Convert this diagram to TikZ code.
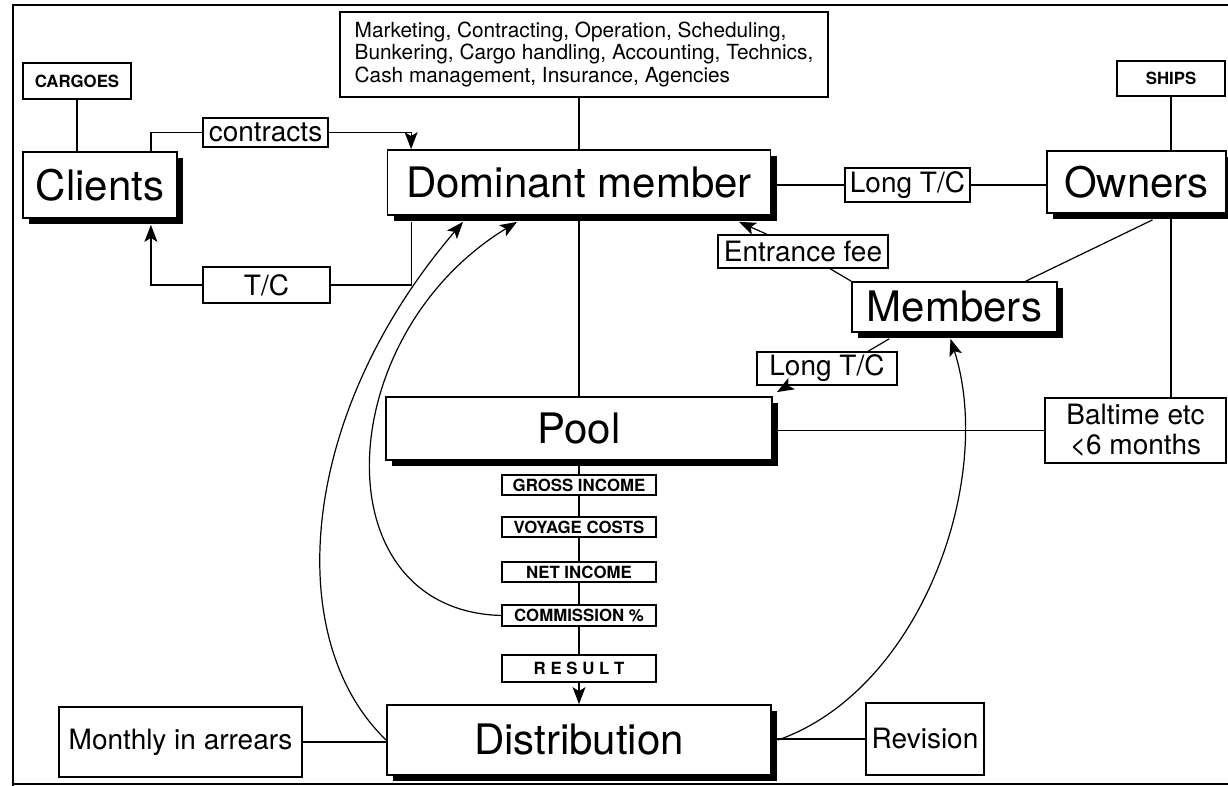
\documentclass[tikz,border=0pt]{standalone}
\usepackage{fontspec}
\setmainfont{TeX Gyre Heros}
\usetikzlibrary{arrows.meta,shadows}

\begin{document}
\begin{tikzpicture}[x=0.5pt,y=-0.5pt,
    bigbox/.style={draw,line width=0.9pt,fill=white,inner sep=0pt,
        font=\fontsize{21}{24}\selectfont,
        drop shadow={shadow xshift=3pt,shadow yshift=-3pt,fill=black,opacity=1}},
    midbox/.style={draw,line width=0.7pt,fill=white,inner sep=0pt,font=\fontsize{14}{15}\selectfont},
    tagbox/.style={draw,line width=0.7pt,fill=white,inner sep=0pt,font=\bfseries\fontsize{8.4}{9}\selectfont},
    link/.style={line width=0.6pt},
    arr/.style={line width=0.6pt,-{Stealth[length=8.5pt,width=6.5pt,inset=2pt]}}]

    \useasboundingbox (0,0) rectangle (1228,786);

    % Border
    \draw[line width=1.3pt] (1228,5) -- (13,5) -- (13,786);
    \draw[line width=0.8pt] (13,784) -- (1228,784);

    % Boxes
    \node[tagbox,minimum width=54pt,minimum height=18pt] (cargoes) at (77,81) {CARGOES};
    \node[bigbox,minimum width=77pt,minimum height=33pt] (clients) at (100,185) {Clients};
    \node[midbox,minimum width=62.5pt,minimum height=14.5pt] (contracts) at (265.5,132.5) {contracts};
    \node[draw,line width=0.7pt,align=left,minimum width=244pt,minimum height=42.5pt,inner sep=0pt,
        font=\fontsize{10.4}{11.3}\selectfont] (tasks) at (584,54.5)
        {Marketing, Contracting, Operation, Scheduling,\\Bunkering, Cargo handling, Accounting, Technics,\\Cash management, Insurance, Agencies};
    \node[bigbox,minimum width=191.5pt,minimum height=32.5pt] (dm) at (579,182.5) {Dominant member};
    \node[midbox,minimum width=62.5pt,minimum height=17pt] (ltcA) at (907.5,185) {Long T/C};
    \node[bigbox,minimum width=89.5pt,minimum height=31pt] (owners) at (1136.5,182) {Owners};
    \node[tagbox,minimum width=54pt,minimum height=17.5pt] (ships) at (1171,78.5) {SHIPS};
    \node[midbox,minimum width=63.5pt,minimum height=18pt] (tc) at (266.5,285) {T/C};
    \node[midbox,minimum width=85pt,minimum height=16.5pt] (fee) at (803,251.5) {Entrance fee};
    \node[bigbox,minimum width=102.5pt,minimum height=25pt] (members) at (954.5,307) {Members};
    \node[midbox,minimum width=70pt,minimum height=16.5pt] (ltcB) at (827,368.5) {Long T/C};
    \node[bigbox,minimum width=193pt,minimum height=31.5pt] (pool) at (579,428.5) {Pool};
    \node[midbox,minimum width=90.5pt,minimum height=32.5pt,align=center] (baltime) at (1135.5,430.5) {Baltime etc\\<6 months};

    % Ledger
    \node[tagbox,minimum width=77pt,minimum height=10pt] (gross) at (579,485) {GROSS INCOME};
    \node[tagbox,minimum width=77pt,minimum height=10pt] (voyage) at (579,527) {VOYAGE COSTS};
    \node[tagbox,minimum width=77pt,minimum height=10pt] (net) at (579,572) {NET INCOME};
    \node[tagbox,minimum width=77pt,minimum height=10.5pt] (comm) at (579,615.5) {COMMISSION \%};
    \node[tagbox,minimum width=77pt,minimum height=13.5pt] (result) at (579,668.5) {R E S U L T};

    \node[bigbox,minimum width=192pt,minimum height=35pt] (dist) at (579,740) {Distribution};
    \node[midbox,minimum width=121.5pt,minimum height=35pt] (monthly) at (180.5,742) {Monthly in arrears};
    \node[midbox,minimum width=59pt,minimum height=36pt] (revision) at (925,739) {Revision};

    % Clients side
    \draw[link] (cargoes.south) -- (cargoes.south |- clients.north);
    \draw[link] ([xshift=-13.5pt]clients.north east) |- (contracts.west);
    \draw[arr] (contracts.east) -| ([xshift=12.25pt]dm.north west);
    \draw[arr] (tc.west) -| ([xshift=-13.5pt,yshift=-3pt]clients.south east);
    \draw[link] (tc.east) -| ([xshift=12.25pt,yshift=-3pt]dm.south west);

    % Dominant member and owners
    \draw[link] (tasks.south -| dm.north) -- (dm.north);
    \draw[link] (dm.south) -- (pool.north);
    \draw[link] (dm.east |- ltcA.west) -- (ltcA.west);
    \draw[link] (ltcA.east) -- (owners.west |- ltcA.east);
    \draw[link] (ships.south) -- (ships.south |- owners.north);
    \draw[link] (owners.south -| ships.south) -- (baltime.north -| ships.south);
    \draw[link] ([xshift=8pt,yshift=-3pt]owners.south) -- ([xshift=-16pt]members.north east);

    % Members
    \draw[arr] ([xshift=-18pt]fee.north) -- ([xshift=-16.25pt,yshift=-3pt]dm.south east);
    \draw[link] ([xshift=13.5pt]fee.south) -- (members.north west);
    \draw[link] ([xshift=19pt,yshift=-3pt]members.south west) -- ([xshift=20.5pt]ltcB.north);
    \draw[arr] ([xshift=-19.5pt]ltcB.south) -- ([xshift=2pt,yshift=2pt]pool.north east);
    \draw[link] (pool.east |- baltime.west) -- (baltime.west);

    % Pool accounts
    \draw[link] (pool.south) -- (gross.north);
    \draw[link] (gross) -- (voyage);
    \draw[link] (voyage) -- (net);
    \draw[link] (net) -- (comm);
    \draw[link] (comm) -- (result);
    \draw[arr] (result) -- (dist);

    % Distribution
    \draw[link] (monthly.east) -- (monthly.east -| dist.west);
    \draw[link] (dist.east |- revision.west) -- (revision.west);
    \draw[arr] (dist.west) .. controls +(-104,-100) and +(-166,194) .. ([xshift=-58pt,yshift=-3pt]dm.south);
    \draw[arr] (comm.west) .. controls +(-182,-5) and +(-187,114) .. ([xshift=-31pt,yshift=-3pt]dm.south);
    \draw[arr] ([xshift=3pt]dist.east) .. controls +(143,-50) and +(45,140) .. ([xshift=-2pt,yshift=-3pt]members.south);

\end{tikzpicture}
\end{document}
